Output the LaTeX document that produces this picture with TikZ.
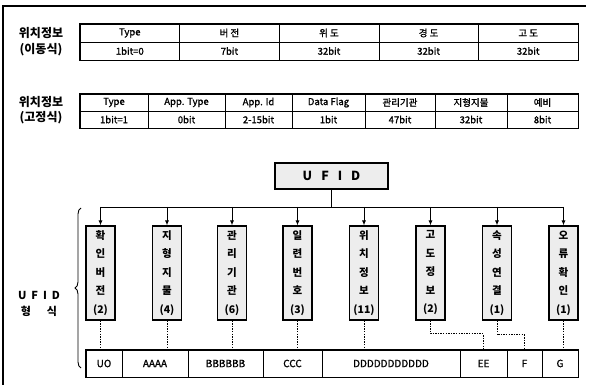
\documentclass[tikz,border=0pt]{standalone}
\usepackage{fontspec}
\setmainfont{Noto Sans CJK KR}
\newfontfamily\medfont{Noto Sans CJK KR}[FakeBold=1.3]
\usetikzlibrary{arrows.meta,decorations.pathreplacing}
\tikzset{
  cell/.style={draw, line width=0.6pt, inner sep=0pt, anchor=center, font=\medfont\fontsize{9.5}{10}\selectfont},
  outer/.style={line width=1.3pt},
  vbox/.style={draw, line width=1.1pt, fill=gray!14, minimum width=29pt, minimum height=94pt, inner sep=0pt, align=center, font=\bfseries\fontsize{10.5}{18.5}\selectfont},
  side/.style={font=\bfseries\fontsize{12}{13}\selectfont, inner sep=0pt},
  feed/.style={line width=0.9pt, -{Latex[length=5pt,width=4pt]}},
  dots/.style={line width=1pt, dash pattern=on 1.4pt off 1.2pt},
  rowcell/.style={draw, line width=0.6pt, minimum height=27pt, inner sep=0pt, font=\medfont\fontsize{10}{11}\selectfont}
}
\begin{document}
\begin{tikzpicture}[x=1pt,y=-1pt]
\useasboundingbox (0,0) rectangle (590,385);
% frame
\draw[line width=1.1pt] (3,385) -- (3,6) -- (586,6);

% table 1
\node[side] (l1a) at (41,33) {위치정보};
\node[side] (l1b) at (41,50) {(이동식)};
\foreach \c/\h/\v [count=\i] in {129.8/Type/1bit=0, 229.4/버 전/7bit, 329/위 도/32bit, 428.6/경 도/32bit, 528.2/고 도/32bit}{
  \node[cell, minimum width=99.6pt, minimum height=18pt] (t1h\i) at (\c,33) {\h};
  \node[cell, minimum width=99.6pt, minimum height=18pt] (t1v\i) at (\c,51) {\v};
}
\draw[outer] (t1h1.north west) rectangle (t1v5.south east);

% table 2
\node[side] (l2a) at (41,102) {위치정보};
\node[side] (l2b) at (41,118) {(고정식)};
\foreach \c/\w/\h/\v [count=\i] in {114/68/Type/1bit=1, 186.5/77/App. Type/0bit, 258.5/67/App. Id/2-15bit, 328.5/73/Data Flag/1bit, 400/70/관리기관/47bit, 471/72/지형지물/32bit, 542.5/71/예비/8bit}{
  \node[cell, minimum width=\w pt, minimum height=17pt] (t2h\i) at (\c,102.5) {\h};
  \node[cell, minimum width=\w pt, minimum height=17pt] (t2v\i) at (\c,119.5) {\v};
}
\draw[outer] (t2h1.north west) rectangle (t2v7.south east);

% UFID box
\node[draw, line width=1.1pt, fill=gray!14, minimum width=113pt, minimum height=26pt, inner sep=0pt, font=\bfseries\fontsize{12.5}{13}\selectfont] (ufid) at (331.5,176) {U\hspace{9pt}F\hspace{9pt}I\hspace{9pt}D};

% vertical boxes
\node[vbox] (b1) at (100.5,273) {확\\인\\버\\전\\(2)};
\node[vbox] (b2) at (167,273) {지\\형\\지\\물\\(4)};
\node[vbox] (b3) at (232,273) {관\\리\\기\\관\\(6)};
\node[vbox] (b4) at (297.5,273) {일\\련\\번\\호\\(3)};
\node[vbox] (b5) at (364,273) {위\\치\\정\\보\\(11)};
\node[vbox] (b6) at (430.5,273) {고\\도\\정\\보\\(2)};
\node[vbox] (b7) at (497,273) {속\\성\\연\\결\\(1)};
\node[vbox] (b8) at (563.5,273) {오\\류\\확\\인\\(1)};

% bus
\coordinate (bus) at (331.5,207);
\draw[line width=0.9pt] (ufid.south) -- (bus);
\draw[line width=0.9pt] (b1.north |- bus) -- (b8.north |- bus);
\foreach \b in {b1,b2,b3,b4,b5,b6,b7,b8}{
  \draw[feed] (\b.north |- bus) -- (\b.north);
}

% bottom row
\node[rowcell, minimum width=36pt] (r1) at (104,363.5) {UO};
\node[rowcell, minimum width=66pt] (r2) at (155,363.5) {AAAA};
\node[rowcell, minimum width=75pt] (r3) at (225.5,363.5) {BBBBBB};
\node[rowcell, minimum width=59pt] (r4) at (292.5,363.5) {CCC};
\node[rowcell, minimum width=138pt] (r5) at (391,363.5) {DDDDDDDDDDD};
\node[rowcell, minimum width=47pt] (r6) at (483.5,363.5) {EE};
\node[rowcell, minimum width=35pt] (r7) at (524.5,363.5) {F};
\node[rowcell, minimum width=36pt] (r8) at (560,363.5) {G};
\draw[outer] (r1.north west) rectangle (r8.south east);

% dotted links
\draw[dots] (b1.south) -- (b1.south |- r1.north);
\draw[dots] (b2.south) -- (b2.south |- r2.north);
\draw[dots] (b3.south) -- (b3.south |- r3.north);
\draw[dots] (b4.south) -- (b4.south |- r4.north);
\draw[dots] (b5.south) -- (b5.south |- r5.north);
\coordinate (k6) at (430.5,334);
\coordinate (k7) at (497,335);
\draw[dots] (b6.south) -- (k6) -| (r6.north);
\draw[dots] (b7.south) -- (k7) -| (r7.north);
\draw[dots] (b8.south) -- (b8.south |- r8.north);

% brace and label
\draw[line width=0.9pt, decorate, decoration={brace, amplitude=6pt}] (81,368) -- (81,208);
\node[side, font=\bfseries\fontsize{11}{12}\selectfont] (uf1) at (39,295) {U\hspace{5pt}F\hspace{5pt}I\hspace{5pt}D};
\node[side, font=\bfseries\fontsize{11}{12}\selectfont] (uf2) at (39,311) {형\hspace{16pt}식};
\end{tikzpicture}
\end{document}
